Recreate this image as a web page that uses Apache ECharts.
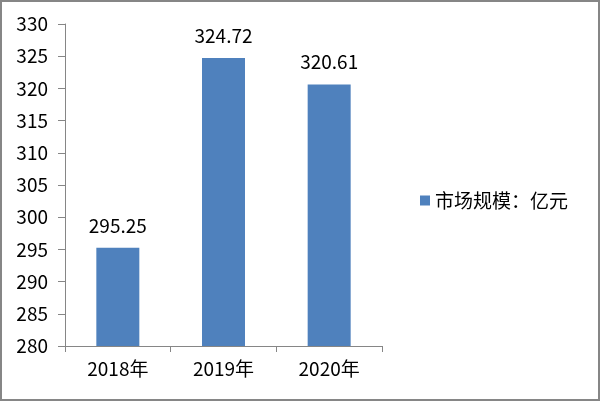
<!DOCTYPE html>
<html><head><meta charset="utf-8">
<script src="https://cdn.jsdelivr.net/npm/echarts@6/dist/echarts.min.js"></script>
<style>html,body{margin:0;padding:0;background:#fff}#c{width:600px;height:401px;box-sizing:border-box;border:2px solid #868686}</style>
</head><body><div id="c"></div>
<script>
var categories = ['2018年', '2019年', '2020年'];
var values = [295.25, 324.72, 320.61];
var seriesName = '市场规模：亿元';
var yMin = 280, yMax = 330, yStep = 5;

var chart = echarts.init(document.getElementById('c'), null, {renderer: 'canvas'});
var font = "'Noto Sans CJK SC', 'Noto Sans', sans-serif";
chart.setOption({
  animation: false,
  textStyle: {fontFamily: font},
  grid: {left: 63, right: 216, top: 22, bottom: 53, containLabel: false},
  legend: {
    data: [seriesName], orient: 'vertical', left: 413, top: 184,
    icon: 'rect', itemWidth: 10, itemHeight: 10, itemGap: 6,
    textStyle: {fontSize: 19, color: '#000', fontFamily: font}
  },
  xAxis: {
    type: 'category', data: categories,
    axisLine: {lineStyle: {color: '#868686', width: 1}},
    axisTick: {show: true, length: 6, alignWithLabel: false, lineStyle: {color: '#868686'}},
    axisLabel: {fontSize: 19, color: '#000', margin: 13, fontFamily: font}
  },
  yAxis: {
    type: 'value', min: yMin, max: yMax, interval: yStep,
    axisLine: {show: true, lineStyle: {color: '#868686', width: 1}},
    axisTick: {show: true, length: 7, lineStyle: {color: '#868686'}},
    splitLine: {show: false},
    axisLabel: {fontSize: 19, color: '#000', margin: 17, fontFamily: font}
  },
  series: [{
    name: seriesName, type: 'bar', data: values, barWidth: 43,
    itemStyle: {color: '#4F81BD'},
    label: {show: true, position: 'top', distance: 13, fontSize: 19, color: '#000', fontFamily: font,
      formatter: function(p){ return p.value.toFixed(2); }}
  }]
});
</script></body></html>
